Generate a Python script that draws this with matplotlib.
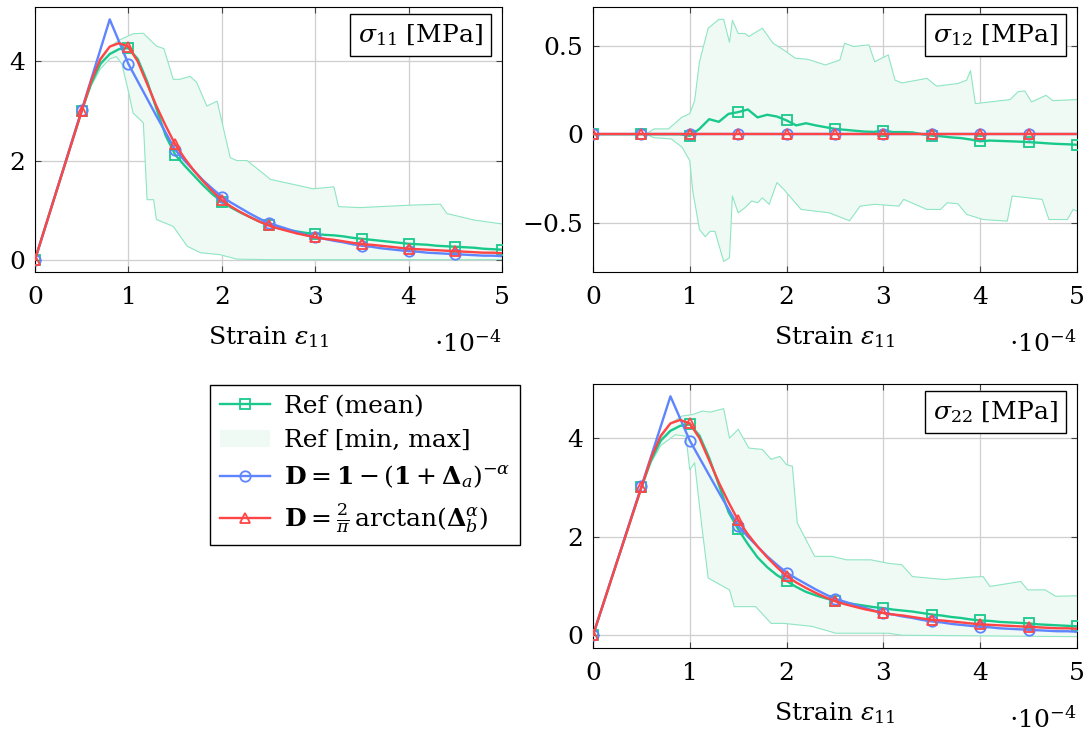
import matplotlib
matplotlib.use("Agg")
import matplotlib.pyplot as plt
import numpy as np

plt.rcParams['font.family'] = ['DejaVu Serif']
plt.rcParams['mathtext.fontset'] = 'dejavuserif'
plt.rcParams['font.size'] = 18

# colours
GREEN = '#19c98b'
BLUE = '#5f84ff'
RED = '#ff4545'
BAND_EDGE = '#8fe6c2'
BAND_FILL = '#effaf5'

# strain grid (x 1e-4) for the mean / model curves
strain = [round(0.1 * i, 1) for i in range(51)]

# sigma_11
s11_mean = [0, 0.6, 1.2, 1.8, 2.4, 3.0, 3.55, 3.95, 4.15, 4.25, 4.27, 4.05, 3.6, 3.05, 2.5, 2.12,
            1.9, 1.7, 1.5, 1.32, 1.17, 1.05, 0.95, 0.86, 0.77, 0.7, 0.64, 0.6, 0.57, 0.54, 0.52,
            0.5, 0.49, 0.47, 0.44, 0.42, 0.4, 0.38, 0.36, 0.34, 0.32, 0.31, 0.3, 0.28, 0.27, 0.26,
            0.25, 0.24, 0.22, 0.21, 0.2]
s11_a = [0, 0.6, 1.21, 1.81, 2.42, 3.02, 3.63, 4.24, 4.85, 4.4, 3.95, 3.6, 3.25, 2.9, 2.56, 2.22,
         2.0, 1.8, 1.6, 1.43, 1.27, 1.15, 1.04, 0.93, 0.83, 0.74, 0.68, 0.62, 0.56, 0.5, 0.45,
         0.42, 0.38, 0.35, 0.31, 0.28, 0.26, 0.23, 0.21, 0.19, 0.17, 0.16, 0.14, 0.13, 0.12, 0.11,
         0.1, 0.09, 0.08, 0.08, 0.07]
s11_b = [0, 0.6, 1.2, 1.8, 2.4, 3.0, 3.6, 4.05, 4.3, 4.37, 4.3, 4.0, 3.55, 3.1, 2.7, 2.33,
         2.05, 1.8, 1.58, 1.38, 1.2, 1.07, 0.96, 0.86, 0.77, 0.69, 0.63, 0.58, 0.53, 0.49, 0.45,
         0.42, 0.4, 0.37, 0.34, 0.31, 0.3, 0.28, 0.26, 0.24, 0.22, 0.21, 0.2, 0.19, 0.18, 0.17,
         0.16, 0.15, 0.14, 0.14, 0.13]
s11_max_x = [0, 0.5, 0.6, 0.7, 0.8, 0.91, 1.05, 1.16, 1.3, 1.38, 1.48, 1.55, 1.66, 1.73, 1.84, 1.95,
             2.09, 2.16, 2.27, 2.45, 2.52, 2.98, 3.2, 3.25, 3.48, 4.02, 4.34, 4.41, 4.7, 5.0]
s11_max = [0, 3.0, 3.6, 4.0, 4.3, 4.44, 4.56, 4.57, 4.31, 4.26, 3.64, 3.64, 3.7, 3.58, 3.1, 3.2,
           2.06, 2.0, 2.0, 1.73, 1.62, 1.43, 1.47, 1.07, 1.05, 1.1, 1.12, 0.93, 0.8, 0.72]
s11_min_x = [0, 0.5, 0.6, 0.7, 0.8, 0.87, 0.93, 1.0, 1.05, 1.16, 1.2, 1.27, 1.3, 1.48, 1.63, 1.77,
             1.98, 2.16, 2.5, 5.0]
s11_min = [0, 3.0, 3.5, 3.85, 4.05, 4.1, 3.95, 3.4, 2.96, 2.76, 1.21, 1.21, 0.81, 0.67, 0.27, 0.14,
           0.1, 0.01, 0.0, 0.0]

# sigma_12
s12_mean = [0, 0, 0, 0, 0, 0, 0, 0, 0, 0, -0.01, 0.03, 0.085, 0.07, 0.115, 0.125, 0.14, 0.095,
            0.11, 0.1, 0.078, 0.05, 0.062, 0.05, 0.04, 0.03, 0.025, 0.02, 0.015, 0.013, 0.02,
            0.012, 0.012, 0.01, 0.0, -0.008, -0.012, -0.018, -0.022, -0.03, -0.04, -0.036, -0.038,
            -0.04, -0.042, -0.045, -0.048, -0.052, -0.055, -0.057, -0.06]
s12_a = [0.0] * 51
s12_b = [0.0] * 51
s12_max_x = [0, 0.55, 0.63, 0.78, 0.92, 1.0, 1.05, 1.1, 1.19, 1.3, 1.35, 1.41, 1.44, 1.5, 1.57, 1.61,
             1.75, 1.86, 1.97, 2.09, 2.22, 2.4, 2.55, 2.6, 2.69, 2.85, 2.91, 3.05, 3.12, 3.19, 3.45,
             3.55, 3.77, 3.86, 3.9, 3.95, 4.31, 4.39, 4.46, 4.53, 4.6, 4.68, 4.75, 5.0]
s12_max = [0, 0, 0.03, 0.03, 0.097, 0.116, 0.19, 0.41, 0.6, 0.65, 0.65, 0.52, 0.645, 0.57, 0.57,
           0.553, 0.6, 0.515, 0.477, 0.43, 0.424, 0.392, 0.42, 0.515, 0.496, 0.506, 0.41, 0.449,
           0.306, 0.29, 0.316, 0.272, 0.287, 0.306, 0.36, 0.173, 0.196, 0.24, 0.245, 0.183, 0.2,
           0.22, 0.19, 0.196]
s12_min_x = [0, 0.55, 0.63, 0.81, 0.92, 1.0, 1.03, 1.1, 1.16, 1.21, 1.26, 1.35, 1.41, 1.44, 1.5,
             1.57, 1.64, 1.7, 1.75, 1.82, 1.9, 1.97, 2.15, 2.29, 2.44, 2.65, 2.76, 2.91, 3.16, 3.21,
             3.45, 3.59, 3.66, 3.77, 3.86, 4.03, 4.28, 4.33, 4.64, 4.71, 4.9, 4.96, 5.0]
s12_min = [0, 0, -0.02, -0.027, -0.074, -0.15, -0.32, -0.54, -0.58, -0.55, -0.55, -0.72, -0.7,
           -0.35, -0.445, -0.416, -0.378, -0.388, -0.36, -0.397, -0.274, -0.312, -0.426, -0.435,
           -0.445, -0.49, -0.407, -0.397, -0.407, -0.369, -0.426, -0.426, -0.388, -0.394, -0.454,
           -0.483, -0.492, -0.35, -0.369, -0.483, -0.483, -0.426, -0.435]

# sigma_22
s22_mean = [0, 0.6, 1.2, 1.8, 2.4, 3.0, 3.55, 3.95, 4.15, 4.25, 4.28, 4.05, 3.6, 3.05, 2.5, 2.15,
            1.85, 1.58, 1.38, 1.22, 1.1, 0.98, 0.88, 0.81, 0.75, 0.7, 0.66, 0.63, 0.6, 0.57, 0.55,
            0.52, 0.5, 0.48, 0.45, 0.42, 0.4, 0.37, 0.35, 0.32, 0.3, 0.29, 0.27, 0.26, 0.25, 0.24,
            0.22, 0.21, 0.2, 0.19, 0.18]
s22_a = s11_a
s22_b = s11_b
s22_max_x = [0, 0.5, 0.6, 0.7, 0.8, 0.92, 1.03, 1.13, 1.21, 1.35, 1.41, 1.5, 1.61, 1.75, 1.84, 1.93,
             2.0, 2.06, 2.11, 2.29, 2.47, 2.62, 2.87, 3.05, 3.19, 3.3, 3.63, 3.92, 4.03, 4.1, 4.42,
             4.49, 4.67, 4.78, 5.0]
s22_max = [0, 3.0, 3.6, 4.0, 4.3, 4.45, 4.48, 4.55, 4.53, 4.6, 4.0, 4.18, 3.8, 3.77, 3.57, 3.63,
           3.46, 3.43, 2.28, 1.6, 1.6, 1.53, 1.53, 1.46, 1.43, 1.19, 1.13, 1.18, 1.19, 0.99, 1.09,
           0.92, 0.92, 0.79, 0.8]
s22_min_x = [0, 0.5, 0.6, 0.7, 0.85, 0.96, 1.0, 1.05, 1.12, 1.19, 1.41, 1.46, 1.68, 1.84, 1.97,
             2.26, 2.51, 3.05, 3.19, 5.0]
s22_min = [0, 3.0, 3.5, 3.85, 4.07, 4.04, 3.36, 3.5, 2.28, 1.16, 0.92, 0.58, 0.58, 0.24, 0.24,
           0.18, 0.04, 0.04, 0.0, -0.03]

labels = ['Ref (mean)', 'Ref [min, max]',
          r'$\mathbf{D} = \mathbf{1} - (\mathbf{1} + \mathbf{\Delta}_a)^{-\alpha}$',
          r'$\mathbf{D} = \frac{2}{\pi}\,\arctan(\mathbf{\Delta}_b^{\alpha})$']

W, H = 1086, 731
fig = plt.figure(figsize=(W / 100, H / 100), dpi=100)


def panel(rect, mean, a, b, xmax, ymax, xmin, ymin, title, ylim, yticks, yticklabels):
    ax = fig.add_axes(rect)
    wpx = rect[2] * W
    hpx = rect[3] * H
    band = np.concatenate([xmax, xmin[::-1]]), np.concatenate([ymax, ymin[::-1]])
    fill = ax.fill(band[0], band[1], color=BAND_FILL, lw=0, zorder=1, label=labels[1])
    ax.plot(xmax, ymax, color=BAND_EDGE, lw=0.8, zorder=2)
    ax.plot(xmin, ymin, color=BAND_EDGE, lw=0.8, zorder=2)
    l1, = ax.plot(strain, mean, color=GREEN, lw=1.7, marker='s', ms=7.5, mfc='none', mew=1.3,
                  markevery=5, zorder=3, label=labels[0])
    l2, = ax.plot(strain, a, color=BLUE, lw=1.7, marker='o', ms=7.5, mfc='none', mew=1.3,
                  markevery=slice(0, 50, 5), zorder=4, label=labels[2])
    l3, = ax.plot(strain, b, color=RED, lw=1.7, marker='^', ms=7.5, mfc='none', mew=1.3,
                  markevery=slice(0, 50, 5), zorder=5, label=labels[3])
    ax.set_xlim(0, 5)
    ax.set_ylim(*ylim)
    ax.set_xticks(range(6))
    ax.set_yticks(yticks)
    ax.set_yticklabels(yticklabels)
    ax.grid(True, color='#cfcfcf', lw=0.9)
    ax.set_axisbelow(True)
    ax.tick_params(direction='in', top=True, right=True, length=4, color='#444444')
    ax.tick_params(axis='x', pad=10)
    ax.tick_params(axis='y', pad=7)
    ax.set_xlabel(r'Strain $\varepsilon_{11}$')
    ax.xaxis.set_label_coords(0.5, -72 / hpx)
    ax.xaxis.label.set_va('baseline')
    ax.text(1.0, -80 / hpx, r'$\cdot10^{-4}$', transform=ax.transAxes, ha='right', va='baseline')
    ax.text(1 - 19 / wpx, 1 - 15 / hpx, title, transform=ax.transAxes, ha='right', va='top',
            zorder=6, bbox=dict(boxstyle='square,pad=0.33', fc='white', ec='black', lw=1))
    return ax, [l1, fill[0], l2, l3]


ax1, handles = panel([35 / W, 1 - 272 / H, 467 / W, 265 / H], s11_mean, s11_a, s11_b,
                     s11_max_x, s11_max, s11_min_x, s11_min, r'$\sigma_{11}$ [MPa]',
                     (-0.25, 5.1), [0, 2, 4], ['0', '2', '4'])
ax2, _ = panel([593 / W, 1 - 272 / H, 484 / W, 265 / H], s12_mean, s12_a, s12_b,
               s12_max_x, s12_max, s12_min_x, s12_min, r'$\sigma_{12}$ [MPa]',
               (-0.78, 0.72), [-0.5, 0, 0.5], ['\u22120.5', '0', '0.5'])
ax3, _ = panel([593 / W, 1 - 648 / H, 484 / W, 264 / H], s22_mean, s22_a, s22_b,
               s22_max_x, s22_max, s22_min_x, s22_min, r'$\sigma_{22}$ [MPa]',
               (-0.26, 5.1), [0, 2, 4], ['0', '2', '4'])

fig.legend(handles, [h.get_label() for h in handles], loc='upper left',
           bbox_to_anchor=(210 / W, 1 - 385 / H), borderaxespad=0, fancybox=False,
           edgecolor='black', framealpha=1, handlelength=2.0, borderpad=0.4,
           labelspacing=0.45, handletextpad=0.55)

fig.savefig('out.png', dpi=100)
